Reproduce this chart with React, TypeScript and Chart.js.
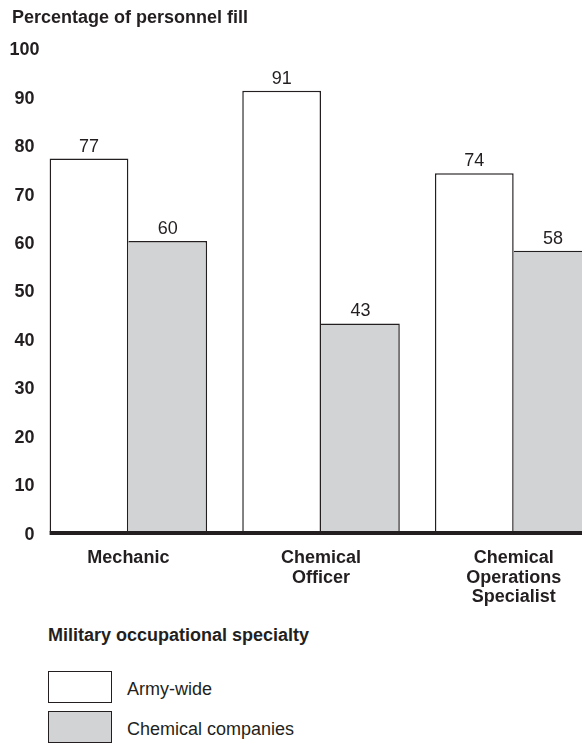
import React, { useEffect, useRef } from "react";
import { Chart, registerables } from "chart.js";

Chart.register(...registerables);

const FONT = '"Liberation Sans", Arial, Helvetica, sans-serif';
const INK = "#231f20";
const GRAY = "#d1d3d4";

const categories: string[][] = [
  ["Mechanic"],
  ["Chemical", "Officer"],
  ["Chemical", "Operations", "Specialist"],
];
const armyWide = [77, 91, 74];
const chemicalCompanies = [60, 43, 58];
const seriesNames = ["Army-wide", "Chemical companies"];
const yTicks = { min: 0, max: 100, step: 10 };
const chartTitle = "Percentage of personnel fill";
const legendTitle = "Military occupational specialty";

const valueLabels = {
  id: "valueLabels",
  afterDatasetsDraw(chart: any) {
    const ctx = chart.ctx;
    ctx.save();
    ctx.font = `18px ${FONT}`;
    ctx.fillStyle = INK;
    ctx.textAlign = "center";
    ctx.textBaseline = "alphabetic";
    chart.data.datasets.forEach((ds: any, i: number) => {
      const meta = chart.getDatasetMeta(i);
      meta.data.forEach((bar: any, j: number) => {
        ctx.fillText(String(ds.data[j]), bar.x, bar.y - 7);
      });
    });
    ctx.restore();
  },
};

const baseLine = {
  id: "baseLine",
  afterDatasetsDraw(chart: any) {
    const ctx = chart.ctx;
    const meta = chart.getDatasetMeta(0);
    const first = meta.data[0];
    if (!first) return;
    const x0 = first.x - first.width / 2;
    const y = chart.scales.y.getPixelForValue(0) + 1.1;
    ctx.save();
    ctx.strokeStyle = INK;
    ctx.lineWidth = 4;
    ctx.beginPath();
    ctx.moveTo(x0, y);
    ctx.lineTo(chart.width, y);
    ctx.stroke();
    ctx.restore();
  },
};

// y tick labels in the left gutter, positioned from the y scale
const yTickLabels = {
  id: "yTickLabels",
  afterDraw(chart: any) {
    const ctx = chart.ctx;
    const ys = chart.scales.y;
    ctx.save();
    ctx.font = `bold 18px ${FONT}`;
    ctx.fillStyle = INK;
    ctx.textAlign = "right";
    ctx.textBaseline = "middle";
    ys.ticks.forEach((t: any) => {
      const s = String(t.value);
      const x = s.length > 2 ? 39.5 : 34.5;
      ctx.fillText(s, x, ys.getPixelForValue(t.value) + 3);
    });
    ctx.restore();
  },
};

export default function App() {
  const ref = useRef<HTMLCanvasElement | null>(null);

  useEffect(() => {
    if (!ref.current) return;
    const chart = new Chart(ref.current, {
      type: "bar",
      data: {
        labels: categories as any,
        datasets: [
          {
            label: seriesNames[0],
            data: armyWide,
            backgroundColor: "#ffffff",
            borderColor: INK,
            borderWidth: { top: 1.5, left: 1.5, right: 1.5, bottom: 0 } as any,
            borderSkipped: false as any,
            categoryPercentage: 0.8177,
            barPercentage: 1,
          },
          {
            label: seriesNames[1],
            data: chemicalCompanies,
            backgroundColor: GRAY,
            borderColor: INK,
            borderWidth: { top: 1.5, left: 0, right: 1.5, bottom: 0 } as any,
            borderSkipped: false as any,
            categoryPercentage: 0.8177,
            barPercentage: 1,
          },
        ],
      },
      options: {
        animation: false,
        responsive: false,
        maintainAspectRatio: false,
        layout: { padding: { top: 47.1, left: 0, right: 0, bottom: 0 } },
        plugins: {
          legend: { display: false },
          title: { display: false },
          tooltip: { enabled: false },
        },
        scales: {
          x: {
            grid: { display: false },
            border: { display: false },
            ticks: {
              color: INK,
              padding: 8,
              font: { family: FONT, size: 18, weight: "bold", lineHeight: 1.1 },
              maxRotation: 0,
              autoSkip: false,
            },
            afterFit: (scale: any) => {
              scale.height = 88.1;
            },
          },
          y: {
            min: yTicks.min,
            max: yTicks.max,
            grid: { display: false, drawTicks: false },
            border: { display: false },
            ticks: {
              stepSize: yTicks.step,
              display: false,
            },
            afterFit: (scale: any) => {
              scale.width = 32.05;
            },
          },
        },
      },
      plugins: [valueLabels, baseLine, yTickLabels],
    });
    return () => chart.destroy();
  }, []);

  const textBase: React.CSSProperties = {
    position: "absolute",
    fontFamily: FONT,
    fontSize: 18,
    lineHeight: "18px",
    color: INK,
    whiteSpace: "nowrap",
    margin: 0,
  };

  return (
    <div
      style={{
        position: "fixed",
        left: 0,
        top: 0,
        width: 582,
        height: 743,
        overflow: "hidden",
        background: "#ffffff",
      }}
    >
      <canvas
        ref={ref}
        width={610}
        height={620}
        style={{ position: "absolute", left: 0, top: 0, width: 610, height: 620 }}
      />
      <div style={{ ...textBase, left: 12, top: 7.75, fontWeight: "bold" }}>{chartTitle}</div>
      <div style={{ ...textBase, left: 48, top: 626, fontWeight: "bold" }}>{legendTitle}</div>
      <div
        style={{
          position: "absolute",
          left: 48,
          top: 671,
          width: 64,
          height: 32,
          boxSizing: "border-box",
          border: `1.5px solid ${INK}`,
          background: "#ffffff",
        }}
      />
      <div
        style={{
          position: "absolute",
          left: 48,
          top: 711,
          width: 64,
          height: 32,
          boxSizing: "border-box",
          border: `1.5px solid ${INK}`,
          background: GRAY,
        }}
      />
      <div style={{ ...textBase, left: 127, top: 679.75 }}>{seriesNames[0]}</div>
      <div style={{ ...textBase, left: 127, top: 719.75 }}>{seriesNames[1]}</div>
    </div>
  );
}
